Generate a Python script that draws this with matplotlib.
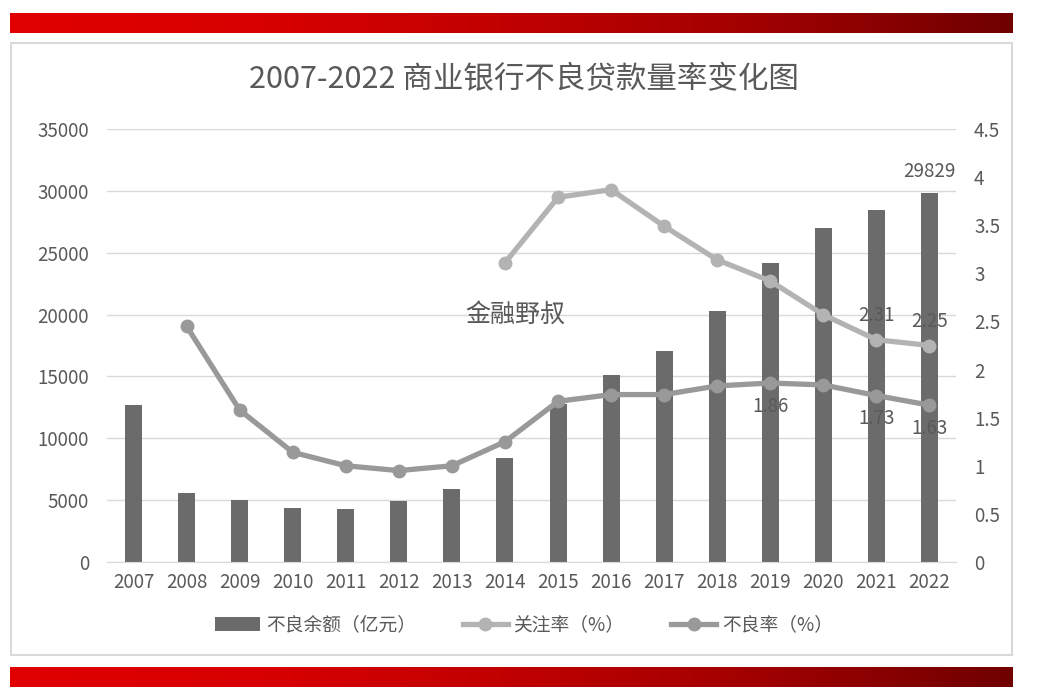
import matplotlib
matplotlib.use("Agg")
import matplotlib.pyplot as plt
import numpy as np
from matplotlib.patches import Rectangle
from matplotlib.colors import LinearSegmentedColormap

plt.rcParams['font.family'] = ['Noto Sans CJK SC', 'DejaVu Sans']

years = ['2007', '2008', '2009', '2010', '2011', '2012', '2013', '2014',
         '2015', '2016', '2017', '2018', '2019', '2020', '2021', '2022']
npl_balance = [12684, 5603, 4973, 4336, 4279, 4929, 5921, 8426,
               12744, 15123, 17057, 20254, 24135, 27015, 28470, 29829]
special_mention = [None, None, None, None, None, None, None, 3.11,
                   3.79, 3.87, 3.49, 3.14, 2.92, 2.57, 2.31, 2.25]
npl_ratio = [None, 2.45, 1.58, 1.14, 1.00, 0.95, 1.00, 1.25,
             1.67, 1.74, 1.74, 1.83, 1.86, 1.84, 1.73, 1.63]

title = '2007-2022 商业银行不良贷款量率变化图'
labels = ['不良余额（亿元）', '关注率（%）', '不良率（%）']

txt = '#595959'
fs = 13.5
fig = plt.figure(figsize=(10.48, 7.0), dpi=100)

# red gradient bars
cmap = LinearSegmentedColormap.from_list('r', ['#e00000', '#d80000', '#c00000', '#a00000', '#700000'])
grad = np.linspace(0, 1, 256).reshape(1, -1)
for y0 in [1 - 33/700, 1 - 687/700]:
    gax = fig.add_axes([10/1048, y0, 1003/1048, 20/700])
    gax.imshow(grad, aspect='auto', cmap=cmap)
    gax.axis('off')

# chart border
fig.patches.append(Rectangle((11/1048, 1 - 655/700), 1001/1048, 612/700,
                             transform=fig.transFigure, fill=False,
                             edgecolor='#d9d9d9', linewidth=1.5))

ax = fig.add_axes([107/1048, 1 - 562/700, 849/1048, 433/700])
x = np.arange(len(years))
ax.bar(x, npl_balance, width=0.32, color='#6b6b6b', label=labels[0], zorder=2)
ax.set_ylim(0, 35000)
ax.set_yticks(range(0, 35001, 5000))
ax.set_xlim(-0.5, len(years) - 0.5)
ax.set_xticks(x)
ax.set_xticklabels(years)
ax.grid(axis='y', color='#d9d9d9', linewidth=1, zorder=0)
ax.set_axisbelow(True)
for s in ['top', 'right', 'left']:
    ax.spines[s].set_visible(False)
ax.spines['bottom'].set_color('#d9d9d9')
ax.tick_params(length=0, colors=txt, labelsize=fs, pad=7)
ax.tick_params(axis='y', pad=13)

ax2 = ax.twinx()
sm = np.array([np.nan if v is None else v for v in special_mention])
nr = np.array([np.nan if v is None else v for v in npl_ratio])
l1, = ax2.plot(x, sm, color='#b3b3b3', linewidth=3.8, marker='o', markersize=9, label=labels[1], zorder=3)
l2, = ax2.plot(x, nr, color='#999999', linewidth=3.8, marker='o', markersize=9, label=labels[2], zorder=3)
ax2.set_ylim(0, 4.5)
ax2.set_yticks(np.arange(0, 4.51, 0.5))
ax2.set_yticklabels(['0', '0.5', '1', '1.5', '2', '2.5', '3', '3.5', '4', '4.5'])
for s in ax2.spines.values():
    s.set_visible(False)
ax2.tick_params(length=0, colors=txt, labelsize=fs, pad=13)

# data labels
ax.annotate(f'{npl_balance[-1]}', (x[-1], npl_balance[-1]), xytext=(0, 8),
            textcoords='offset points', ha='center', va='bottom', color=txt, fontsize=fs)
for i in [14, 15]:
    ax2.annotate(f'{special_mention[i]:.2f}', (x[i], special_mention[i]), xytext=(0, 10),
                 textcoords='offset points', ha='center', va='bottom', color=txt, fontsize=fs)
for i in [12, 14, 15]:
    ax2.annotate(f'{npl_ratio[i]:.2f}', (x[i], npl_ratio[i]), xytext=(0, -9),
                 textcoords='offset points', ha='center', va='top', color=txt, fontsize=fs)

fig.text(0.5, 1 - 80/700, title, ha='center', va='center', fontsize=22, color=txt)
fig.text(515/1048, 1 - 315/700, '金融野叔', ha='center', va='center', fontsize=18, color=txt)

handles = [ax.containers[0], l1, l2]
fig.legend(handles, labels, loc='center', bbox_to_anchor=(0.5, 1 - 625/700), ncol=3,
           frameon=False, fontsize=fs, labelcolor=txt, handlelength=2.4, handletextpad=0.3,
           columnspacing=2.5)

fig.savefig('out.png', dpi=100, facecolor='white')
